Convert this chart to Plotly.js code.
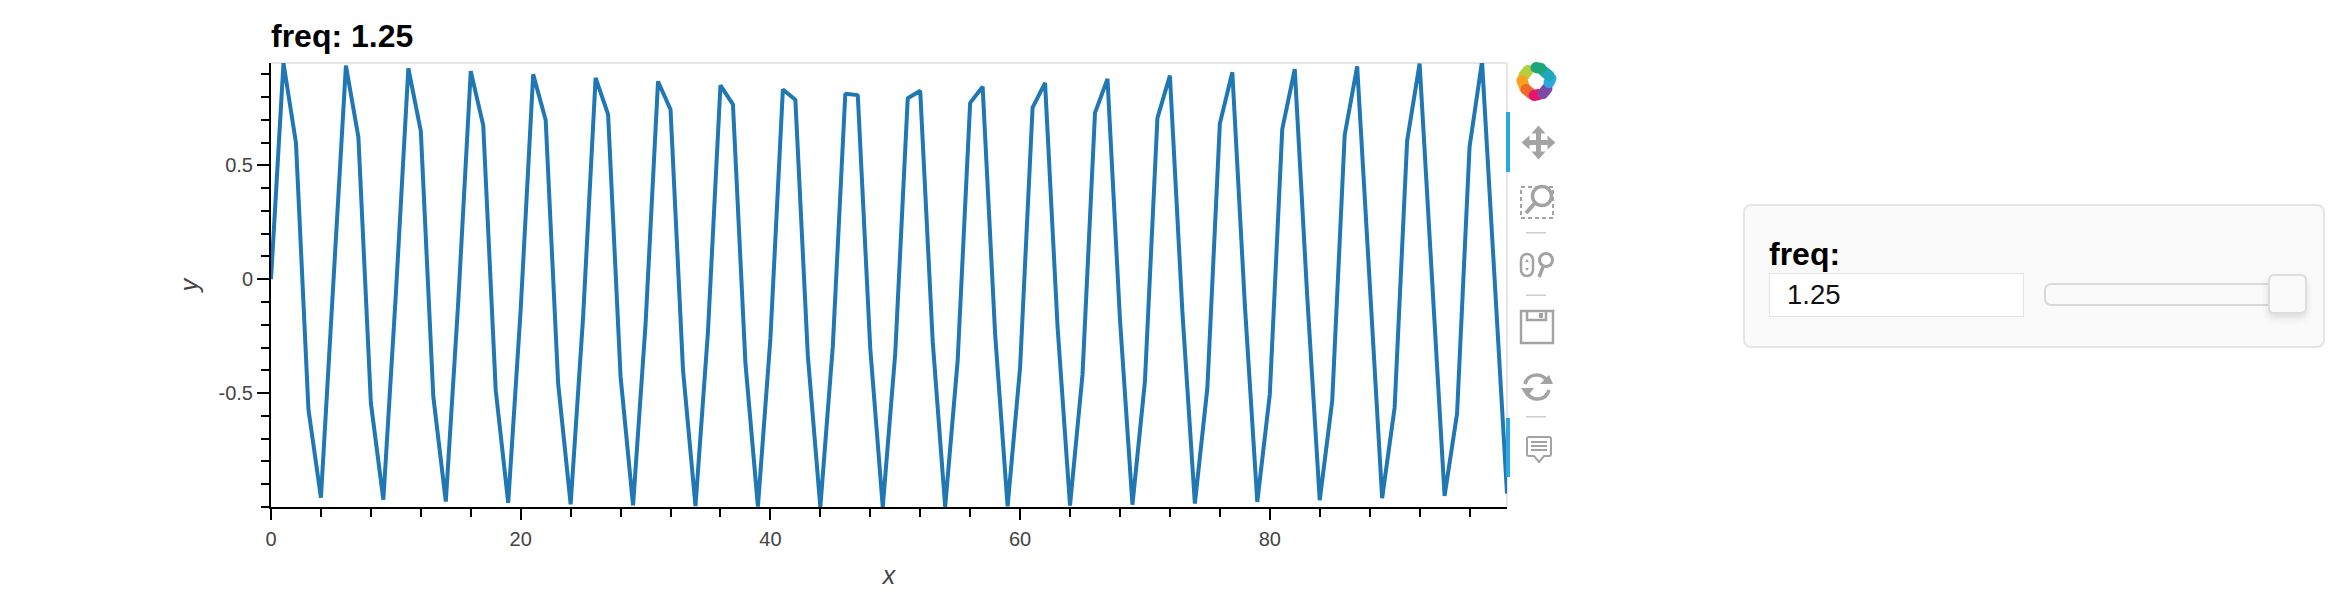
<!DOCTYPE html>
<html>
<head>
<meta charset="utf-8">
<script src="https://cdn.plot.ly/plotly-3.0.1.min.js"></script>
<style>
html,body{margin:0;padding:0;background:#fff;width:2350px;height:602px;overflow:hidden;font-family:"Liberation Sans",Arial,sans-serif}
#chart{position:absolute;left:0;top:0;width:2350px;height:602px}
.js-line{stroke-linejoin:bevel !important}
.abs{position:absolute;box-sizing:border-box}
#tools{position:absolute;left:0;top:0;pointer-events:none}
</style>
</head>
<body>
<div id="chart"></div>

<svg id="tools" width="2350" height="602" viewBox="0 0 2350 602">
  <defs><filter id="soft" x="-20%" y="-20%" width="140%" height="140%"><feGaussianBlur stdDeviation="0.7"/></filter></defs>
  <!-- active tool markers -->
  <rect x="1506" y="112" width="4" height="60" fill="#26aae1"/>
  <rect x="1506" y="418" width="4" height="59" fill="#26aae1"/>
  <!-- logo -->
  <g transform="translate(1536 81.5)" fill="none" stroke-width="11" stroke-linecap="round" filter="url(#soft)">
    <path d="M-12 -6 L-8 -11" stroke="#b5cf3a"/>
    <path d="M-14 -1 L-11 7" stroke="#f9a11b"/>
    <path d="M-10 8 L-5 12" stroke="#f2682a"/>
    <path d="M-2 14 L3 13" stroke="#e6186e"/>
    <path d="M7 12 L11 7" stroke="#7d4aa8"/>
    <path d="M13 1 L15 -3" stroke="#2ea9e0"/>
    <path d="M13 -6 L8 -10" stroke="#1fa8b8"/>
    <path d="M5 -13 L0 -14" stroke="#1fa67a"/>
  </g>
  <!-- pan -->
  <g transform="translate(1538.5 142.5)" fill="#a3a3a3">
    <path d="M0 -17 L7 -9 L2.5 -9 L2.5 -2.5 L9 -2.5 L9 -7 L17 0 L9 7 L9 2.5 L2.5 2.5 L2.5 9 L7 9 L0 17 L-7 9 L-2.5 9 L-2.5 2.5 L-9 2.5 L-9 7 L-17 0 L-9 -7 L-9 -2.5 L-2.5 -2.5 L-2.5 -9 L-7 -9 Z"/>
  </g>
  <!-- box zoom -->
  <g fill="none" stroke="#a3a3a3">
    <rect x="1521" y="187" width="32" height="31" stroke-width="2" stroke-dasharray="4 3"/>
    <circle cx="1542" cy="196" r="9.5" stroke-width="3.5" fill="#fff"/>
    <path d="M1535 203 L1526 213" stroke-width="4"/>
  </g>
  <rect x="1526" y="232" width="20" height="1.5" fill="#ccc"/>
  <!-- wheel zoom -->
  <g fill="none" stroke="#a3a3a3">
    <rect x="1521" y="254" width="12" height="22" rx="6" stroke-width="2.5"/>
    <path d="M1527 259 L1529 262 L1525 262 Z M1527 271 L1529 268 L1525 268 Z" fill="#a3a3a3" stroke="none"/>
    <circle cx="1546" cy="260" r="6.5" stroke-width="3"/>
    <path d="M1543 267 L1539 277" stroke-width="3.5"/>
  </g>
  <rect x="1526" y="294.5" width="20" height="1.5" fill="#ccc"/>
  <!-- save -->
  <g fill="none" stroke="#a3a3a3" stroke-width="2.5">
    <rect x="1521" y="311" width="32" height="32"/>
    <path d="M1527 311 L1527 320 L1546 320 L1546 311"/>
    <rect x="1539" y="313" width="4" height="5" fill="#a3a3a3" stroke="none"/>
  </g>
  <!-- reset -->
  <g fill="none" stroke="#a3a3a3" stroke-width="3.5">
    <path d="M1525 384 A12 12 0 0 1 1547 381"/>
    <path d="M1549 390 A12 12 0 0 1 1527 393"/>
    <path d="M1540 384 L1553 384 L1549 375 Z" fill="#a3a3a3" stroke="none"/>
    <path d="M1521 388 L1534 388 L1527 397 Z" fill="#a3a3a3" stroke="none"/>
  </g>
  <rect x="1526" y="416" width="20" height="1.5" fill="#ccc"/>
  <!-- hover -->
  <g fill="none" stroke="#a3a3a3" stroke-width="2">
    <path d="M1529 437 L1549 437 Q1551 437 1551 439 L1551 454 Q1551 456 1549 456 L1544 456 L1539 462 L1534 456 L1529 456 Q1527 456 1527 454 L1527 439 Q1527 437 1529 437 Z"/>
    <path d="M1531 442 L1547 442 M1531 446 L1547 446 M1531 450 L1547 450"/>
  </g>
</svg>

<!-- widget panel -->
<div class="abs" style="left:1743px;top:204px;width:582px;height:144px;background:#fafafa;border:2px solid #e5e5e5;border-radius:8px"></div>
<div class="abs" style="left:1769px;top:232px;font-weight:bold;font-size:32px;line-height:44px;color:#000">freq:</div>
<div class="abs" style="left:1769px;top:273px;width:255px;height:44px;background:#fff;border:1.5px solid #e3e3e3;font-size:27.5px;line-height:42px;padding-left:17px;color:#111">1.25</div>
<div class="abs" style="left:2044px;top:283px;width:230px;height:23px;background:#fafafa;border:2.5px solid #d9d9d9;border-radius:7px"></div>
<div class="abs" style="left:2268px;top:274px;width:39px;height:40px;background:#fafafa;border:2.5px solid #dcdcdc;border-radius:6px;box-shadow:0 4px 7px rgba(0,0,0,0.12)"></div>

<script>
var xValues = [];
for (var i = 0; i < 100; i++) xValues.push(i);

var yValues = [
  0, 0.949, 0.598, -0.572, -0.959,
  -0.033, 0.938, 0.624, -0.544, -0.968,
  -0.066, 0.926, 0.650, -0.515, -0.976,
  -0.099, 0.913, 0.675, -0.487, -0.982,
  -0.132, 0.899, 0.699, -0.458, -0.988,
  -0.165, 0.884, 0.723, -0.428, -0.993,
  -0.198, 0.868, 0.745, -0.398, -0.996,
  -0.230, 0.851, 0.767, -0.368, -0.998,
  -0.262, 0.833, 0.788, -0.337, -1.000,
  -0.294, 0.814, 0.808, -0.305, -1.000,
  -0.326, 0.794, 0.827, -0.273, -0.999,
  -0.357, 0.774, 0.845, -0.241, -0.997,
  -0.388, 0.753, 0.862, -0.208, -0.994,
  -0.418, 0.730, 0.879, -0.176, -0.990,
  -0.448, 0.707, 0.894, -0.143, -0.985,
  -0.478, 0.683, 0.908, -0.110, -0.978,
  -0.506, 0.659, 0.922, -0.077, -0.970,
  -0.535, 0.633, 0.934, -0.044, -0.961,
  -0.563, 0.607, 0.946, -0.011, -0.951,
  -0.590, 0.580, 0.956, 0.022, -0.941
];

var xTickVals = [0, 20, 40, 60, 80];
var xTickText = ["0", "20", "40", "60", "80"];
var yTickVals = [-0.5, 0, 0.5];
var yTickText = ["-0.5", "0", "0.5"];
var xRange = [0, 99];
var yRange = [-1.0, 0.949];
var titleText = "freq: 1.25";

var tickFont = {family: '"Liberation Sans", Arial, sans-serif', size: 20, color: "#444444"};
var labelFont = {family: '"Liberation Sans", Arial, sans-serif', size: 25, color: "#444444"};

var trace = {
  x: xValues, y: yValues, type: "scatter", mode: "lines",
  line: {color: "#1f77b4", width: 4, shape: "linear"},
  hoverinfo: "skip", showlegend: false
};

var layout = {
  width: 2350, height: 602,
  margin: {l: 271, r: 843, t: 63, b: 95, pad: 0},
  paper_bgcolor: "#ffffff", plot_bgcolor: "#ffffff",
  showlegend: false,
  title: {
    text: "<b>" + titleText + "</b>",
    font: {family: '"Liberation Sans", Arial, sans-serif', size: 32, color: "#000000"},
    x: 271 / 2350, xanchor: "left", xref: "container",
    y: 1 - 47 / 602, yanchor: "bottom", yref: "container", pad: {b: 0}
  },
  xaxis: {
    range: xRange, showgrid: false, zeroline: false,
    showline: true, linecolor: "#000000", linewidth: 2,
    tickmode: "array", tickvals: xTickVals, ticktext: xTickText,
    ticks: "outside", ticklen: 11, tickwidth: 2, tickcolor: "#000000",
    tickfont: tickFont, ticklabelstandoff: 2,
    minor: {tickmode: "linear", tick0: 0, dtick: 4, ticks: "outside", ticklen: 8, tickwidth: 2, tickcolor: "#000000", showgrid: false},
    title: {text: "<i>x</i>", font: labelFont, standoff: 17},
    automargin: true
  },
  yaxis: {
    range: yRange, showgrid: false, zeroline: false,
    showline: true, linecolor: "#000000", linewidth: 2,
    tickmode: "array", tickvals: yTickVals, ticktext: yTickText,
    ticks: "outside", ticklen: 12, tickwidth: 2, tickcolor: "#000000",
    tickfont: tickFont,
    minor: {tickmode: "linear", tick0: 0, dtick: 0.1, ticks: "outside", ticklen: 8, tickwidth: 2, tickcolor: "#000000", showgrid: false},
    title: {text: "<i>y</i>", font: labelFont, standoff: 13},
    automargin: true
  },
  xaxis2: {
    overlaying: "x", anchor: "y", side: "bottom", range: xRange, matches: "x",
    tickmode: "array", tickvals: xTickVals, ticktext: ["", "", "", "", ""],
    ticks: "inside", ticklen: 4, tickwidth: 2, tickcolor: "#000000",
    showgrid: false, zeroline: false, showline: false
  },
  yaxis2: {
    overlaying: "y", anchor: "x", side: "left", range: yRange, matches: "y",
    tickmode: "array", tickvals: yTickVals, ticktext: ["", "", ""],
    ticks: "inside", ticklen: 4, tickwidth: 2, tickcolor: "#000000",
    showgrid: false, zeroline: false, showline: false
  },
  shapes: [
    {type: "line", xref: "paper", yref: "paper", x0: 0, x1: 1, y0: 1, y1: 1, line: {color: "#e5e5e5", width: 2}, layer: "below"},
    {type: "line", xref: "paper", yref: "paper", x0: 1, x1: 1, y0: 0, y1: 1, line: {color: "#e5e5e5", width: 2}, layer: "below"}
  ]
};

Plotly.newPlot("chart", [trace], layout, {displayModeBar: false, staticPlot: true});
</script>
</body>
</html>
